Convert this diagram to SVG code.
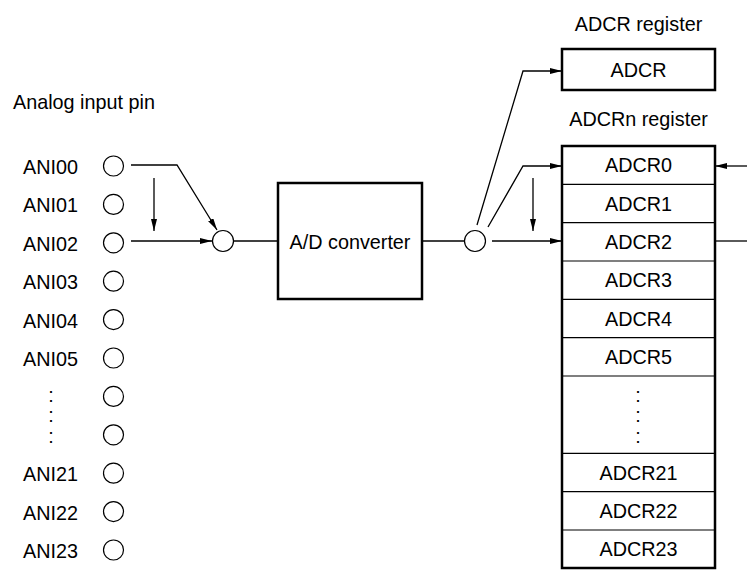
<svg xmlns="http://www.w3.org/2000/svg" width="747" height="570" viewBox="0 0 747 570">
<style>
text{font-family:"Liberation Sans",Arial,sans-serif;font-size:19.8px;fill:#000}
.m{text-anchor:middle}
.pin{fill:#fff;stroke:#000;stroke-width:1.2}
.box{fill:#fff;stroke:#000;stroke-width:2.5}
.row{stroke:#000;stroke-width:1.2;fill:none}
.ln{stroke:#000;stroke-width:1.3;fill:none}
.ar{stroke:#000;stroke-width:1.3;fill:none;marker-end:url(#ah)}
</style>
<defs>
<marker id="ah" viewBox="0 0 12 6" refX="12" refY="3" markerWidth="12" markerHeight="6" markerUnits="userSpaceOnUse" orient="auto">
<path d="M0,0 L12,3 L0,6 Z" fill="#000"/>
</marker>
</defs>
<rect width="747" height="570" fill="#fff"/>
<text x="13" y="109">Analog input pin</text>
<g id="pins">
<g id="ani00"><text x="23" y="174">ANI00</text><circle class="pin" cx="113.5" cy="166" r="10"/></g>
<g id="ani01"><text x="23" y="212.4">ANI01</text><circle class="pin" cx="113.5" cy="204.4" r="10"/></g>
<g id="ani02"><text x="23" y="250.8">ANI02</text><circle class="pin" cx="113.5" cy="242.8" r="10"/></g>
<g id="ani03"><text x="23" y="289.2">ANI03</text><circle class="pin" cx="113.5" cy="281.2" r="10"/></g>
<g id="ani04"><text x="23" y="327.6">ANI04</text><circle class="pin" cx="113.5" cy="319.6" r="10"/></g>
<g id="ani05"><text x="23" y="366">ANI05</text><circle class="pin" cx="113.5" cy="358" r="10"/></g>
<g id="anidots"><text class="m" x="51" y="402">:</text><text class="m" x="51" y="422">:</text><text class="m" x="51" y="443">:</text><circle class="pin" cx="113.5" cy="396.4" r="10"/><circle class="pin" cx="113.5" cy="434.8" r="10"/></g>
<g id="ani21"><text x="23" y="481.2">ANI21</text><circle class="pin" cx="113.5" cy="473.2" r="10"/></g>
<g id="ani22"><text x="23" y="519.6">ANI22</text><circle class="pin" cx="113.5" cy="511.6" r="10"/></g>
<g id="ani23"><text x="23" y="558">ANI23</text><circle class="pin" cx="113.5" cy="550" r="10"/></g>
</g>
<g id="mux"><circle class="pin" cx="223" cy="241" r="10.5"/></g>
<g id="adc"><rect class="box" x="278" y="183" width="144" height="116"/><text class="m" x="350" y="248.5">A/D converter</text></g>
<g id="demux"><circle class="pin" cx="475" cy="241" r="10.5"/></g>
<g id="adcr"><text class="m" x="638.5" y="30.5">ADCR register</text><rect class="box" x="562" y="49" width="153" height="41"/><text class="m" x="638.5" y="77">ADCR</text></g>
<g id="adcrn">
<text class="m" x="638.5" y="126">ADCRn register</text>
<rect class="box" x="562" y="146" width="153" height="422"/>
<path class="row" d="M562,184.3H715M562,222.7H715M562,261H715M562,299.3H715M562,337.7H715M562,376H715M562,453.3H715M562,491.7H715M562,530H715"/>
<text class="m" x="638.5" y="172">ADCR0</text>
<text class="m" x="638.5" y="210.5">ADCR1</text>
<text class="m" x="638.5" y="248.8">ADCR2</text>
<text class="m" x="638.5" y="287.2">ADCR3</text>
<text class="m" x="638.5" y="325.5">ADCR4</text>
<text class="m" x="638.5" y="363.8">ADCR5</text>
<text class="m" x="638" y="402">:</text><text class="m" x="638" y="422">:</text><text class="m" x="638" y="443">:</text>
<text class="m" x="638.5" y="479.5">ADCR21</text>
<text class="m" x="638.5" y="517.8">ADCR22</text>
<text class="m" x="638.5" y="556.2">ADCR23</text>
</g>
<g id="connectors">
<path class="ar" d="M131,165H177L217,230"/>
<path class="ar" d="M154,178V231"/>
<path class="ar" d="M131,241H212"/>
<path class="ln" d="M233.5,241H278"/>
<path class="ln" d="M422,241H464.5"/>
<path class="ar" d="M477,225L523,71H562"/>
<path class="ar" d="M488,227L523,166H562"/>
<path class="ar" d="M533,178V231"/>
<path class="ar" d="M492,241H562"/>
<path class="ar" d="M747,166H715"/>
<path class="ln" d="M715,241H747"/>
</g>
</svg>
